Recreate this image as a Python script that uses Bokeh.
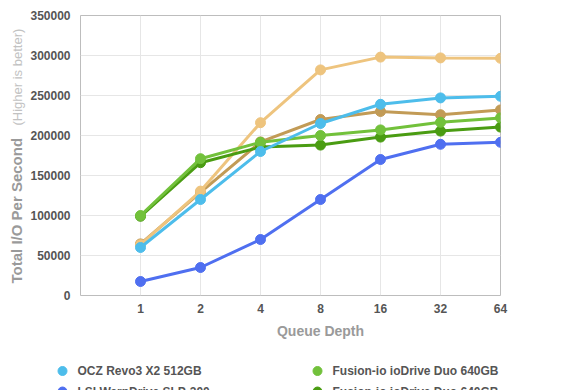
import math
from bokeh.plotting import figure
from bokeh.layouts import column, row
from bokeh.models import Range1d, FixedTicker, NumeralTickFormatter
from bokeh.embed import file_html
from bokeh.resources import INLINE
from bokeh.core.properties import value

# ---- data ----
queue_depths = [1, 2, 4, 8, 16, 32, 64]
tick_labels = ["1", "2", "4", "8", "16", "32", "64"]
y_ticks = [0, 50000, 100000, 150000, 200000, 250000, 300000, 350000]

ocz_revo3 = [60000, 120000, 180000, 215000, 239000, 247000, 249000]
lsi_warpdrive = [17500, 35000, 70000, 120000, 170000, 189000, 191500]
fusion_a = [100000, 171000, 191500, 200000, 207000, 216500, 222000]
fusion_b = [99000, 166000, 185500, 188000, 198000, 205500, 210500]
series_tan = [64500, 129000, 192000, 220000, 230000, 226000, 232000]
series_orange = [63500, 130500, 216000, 282000, 298000, 297000, 296500]

legend_names = ["OCZ Revo3 X2 512GB", "LSI WarpDrive SLP-300",
                "Fusion-io ioDrive Duo 640GB", "Fusion-io ioDrive Duo 640GB"]

x_title = "Queue Depth"
y_title = "Total I/O Per Second"
y_subtitle = "(Higher is better)"

C_OCZ = "#4dbdeb"
C_LSI = "#4f6ff0"
C_FA = "#72c13b"
C_FB = "#4a9c12"
C_TAN = "#c29b56"
C_ORANGE = "#eec47e"

FONT = "Liberation Sans"


def blank(fig):
    fig.outline_line_color = None
    fig.grid.visible = False
    fig.background_fill_color = "white"
    fig.border_fill_color = "white"


# ---- main chart ----
p = figure(width=554, height=320, x_axis_type="log",
           x_range=Range1d(0.5, 64), y_range=Range1d(0, 350000),
           output_backend="svg", toolbar_location=None,
           min_border_left=54, min_border_right=80,
           min_border_top=15, min_border_bottom=25)

p.outline_line_color = "#bdbdbd"
p.outline_line_width = 1
p.background_fill_color = "white"
p.border_fill_color = "white"

p.xaxis.ticker = FixedTicker(ticks=queue_depths)
p.xaxis.formatter = NumeralTickFormatter(format="0")
p.xaxis.major_label_overrides = {q: t for q, t in zip(queue_depths, tick_labels)}
p.yaxis.ticker = FixedTicker(ticks=y_ticks)
p.yaxis.formatter = NumeralTickFormatter(format="0")

for ax in (p.xaxis, p.yaxis):
    ax.axis_line_color = None
    ax.major_tick_line_color = None
    ax.minor_tick_line_color = None
    ax.major_tick_out = 0
    ax.major_tick_in = 0
    ax.major_label_text_font = FONT
    ax.major_label_text_font_size = "12px"
    ax.major_label_text_font_style = "bold"
    ax.major_label_text_color = "#555555"
p.yaxis.major_label_standoff = 10
p.xaxis.major_label_standoff = 8

p.grid.grid_line_color = "#e6e6e6"
p.grid.grid_line_width = 1
p.xgrid.ticker = FixedTicker(ticks=queue_depths)
p.ygrid.ticker = FixedTicker(ticks=y_ticks)

order = [(series_tan, C_TAN), (series_orange, C_ORANGE), (fusion_b, C_FB),
         (fusion_a, C_FA), (lsi_warpdrive, C_LSI), (ocz_revo3, C_OCZ)]
for ys, c in order:
    p.line(queue_depths, ys, line_width=3, line_color=c)
    p.scatter(queue_depths, ys, size=10, fill_color=c, line_color=c)

# ---- left strip with rotated y title (frame matches main frame vertically) ----
lf = figure(width=26, height=320, x_range=Range1d(0, 26), y_range=Range1d(0, 280),
            x_axis_location=None, y_axis_location=None,
            output_backend="svg", toolbar_location=None,
            min_border_left=0, min_border_right=0,
            min_border_top=15, min_border_bottom=25)
blank(lf)
lf.text(x=[16], y=[12], text=[y_title], angle=math.pi / 2,
        text_font=value(FONT), text_font_size="15px", text_font_style="bold",
        text_color="#9a9a9a", text_align="left", text_baseline="middle")
lf.text(x=[17], y=[170], text=[y_subtitle], angle=math.pi / 2,
        text_font=value(FONT), text_font_size="13px",
        text_color="#c2c2c2", text_align="left", text_baseline="middle")

# ---- bottom strip: x title + legend (pixel coordinates) ----
lg = figure(width=580, height=70, x_range=Range1d(0, 580), y_range=Range1d(70, 0),
            x_axis_location=None, y_axis_location=None,
            output_backend="svg", toolbar_location=None, min_border=0)
blank(lg)
lg.text(x=[320], y=[10], text=[x_title], text_font=value(FONT),
        text_font_size="14px", text_font_style="bold", text_color="#9a9a9a",
        text_align="center", text_baseline="middle")

leg_colors = [C_OCZ, C_LSI, C_FA, C_FB]
mx = [62, 62, 317, 317]
my = [50.5, 71, 50.5, 71]
lg.scatter(mx, my, size=9, fill_color=leg_colors, line_color=leg_colors)
lg.text([m + 15 for m in mx], my, text=legend_names, text_font=value(FONT),
        text_font_size="12px", text_font_style="bold", text_color="#555555",
        text_baseline="middle", text_align="left")

layout = column(row(lf, p, spacing=0), lg, spacing=0)
open("out.html", "w").write(file_html(layout, INLINE))
